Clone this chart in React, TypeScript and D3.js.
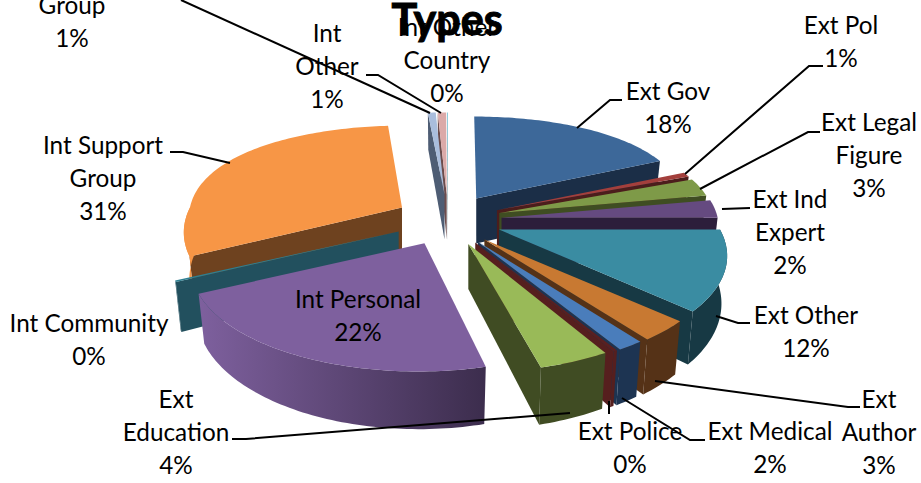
import React from "react";
import * as d3 from "d3";

const W = 921, H = 483;
const FONT = "Lato, 'Open Sans', sans-serif";

// ---- data (clockwise from 12 o'clock) ----
const categories = ["Ext Gov","Ext Pol","Ext Legal Figure","Ext Ind Expert","Ext Other","Ext Author","Ext Medical","Ext Police","Ext Education","Int Personal","Int Community","Int Support Group","Group","Int Other","Int Other Country"];
const shares = [18.3,0.8,3.0,2.9,12.2,3.1,1.55,0.25,4.1,21.3,0.2,30.9,0.65,0.7,0.05];
const topColors = ["#3D6899","#A33F3C","#7E9A48","#654A80","#3A8CA2","#C87932","#4A7DBB","#5A2020","#99BA58","#7E609E","#2E7F91","#F79646","#A9BDDC","#DBA9A8","#4BACC6"];
const wallColors = ["#1B2E47","#4C1D1C","#3F4D22","#2C1E3B","#173944","#553217","#1D3452","#561F1E","#404C23","#3C2D4D","#22505E","#6E421F","#4E5D74","#6C4C4C","#22505E"];

// ---- labels ----
type Lab = { x: number; lines: string[]; y: number };
const labels: Lab[] = [
  { x: 72, y: 14, lines: ["Group", "1%"] },
  { x: 327, y: 42, lines: ["Int", "Other", "1%"] },
  { x: 447, y: 36, lines: ["Int Other", "Country", "0%"] },
  { x: 668, y: 100, lines: ["Ext Gov", "18%"] },
  { x: 841, y: 34, lines: ["Ext Pol", "1%"] },
  { x: 869, y: 131, lines: ["Ext Legal", "Figure", "3%"] },
  { x: 790, y: 208, lines: ["Ext Ind", "Expert", "2%"] },
  { x: 806, y: 324, lines: ["Ext Other", "12%"] },
  { x: 879, y: 408, lines: ["Ext", "Author", "3%"] },
  { x: 770, y: 440, lines: ["Ext Medical", "2%"] },
  { x: 630, y: 440, lines: ["Ext Police", "0%"] },
  { x: 176, y: 408, lines: ["Ext", "Education", "4%"] },
  { x: 89, y: 332, lines: ["Int Community", "0%"] },
  { x: 103, y: 154, lines: ["Int Support", "Group", "31%"] },
  { x: 358, y: 308, lines: ["Int Personal", "22%"] },
];
const leaders: [number, number][][] = [
  [[181, 0], [430, 113]],
  [[366, 75], [378, 75], [441, 113]],
  [[622, 100], [610, 100], [577, 128]],
  [[823, 66], [809, 66], [685, 174]],
  [[820, 132], [808, 132], [700, 189]],
  [[750, 208], [722, 209]],
  [[750, 323], [738, 323], [716, 316]],
  [[860, 407], [848, 407], [655, 381]],
  [[705, 440], [690, 440], [622, 398]],
  [[609, 401], [609, 414]],
  [[232, 439], [246, 439], [570, 413]],
  [[170, 152], [183, 152], [230, 163]],
];

// ---- 3D pie geometry ----
const CX = 448, CY = 220;          // pie centre
const EX = 54, EY = 25.6;          // explosion offset
const EXPLODE_V = 0.24;            // explosion in ground units
const RX = 217, RY = 100;          // ground ellipse
const PX = 0.2, PY = 0.22, DEPTH = 45;

const TAU = Math.PI * 2;
const pie = d3.pie<number>().sort(null).startAngle(0).endAngle(TAU);
const arcs = pie(shares);
const lineGen = d3.line<[number, number]>();

type P = [number, number];
type Slice = { i: number; a0: number; a1: number; mid: number; apex: P; ox: number; av: number };

const rimTop = (s: Slice, a: number): P => {
  const v = -Math.cos(a);
  const fx = 1 / (1 - PX * ((v < 0 ? v * 0.4 : v) + s.av));
  const fy = 1 / (1 - PY * v);
  return [CX + (s.ox + Math.sin(a) * RX) * fx, s.apex[1] + v * RY * fy];
};
const rimBottom = (s: Slice, a: number): P => {
  const [x, y] = rimTop(s, a);
  const f = 1 / (1 - PY * -Math.cos(a));
  return [s.apex[0] + (x - s.apex[0]) * 0.975, y + DEPTH * f];
};
const sampled = (a0: number, a1: number) => {
  const n = Math.max(2, Math.ceil((a1 - a0) / 0.02));
  return d3.range(n + 1).map((i) => a0 + ((a1 - a0) * i) / n);
};

const slices: Slice[] = arcs.map((d, i) => {
  const mid = (d.startAngle + d.endAngle) / 2;
  const ox = EX * Math.sin(mid);
  const av = -Math.cos(mid) * EXPLODE_V;
  const apex: P = [CX + ox / (1 - PX * av), CY - EY * Math.cos(mid)];
  return { i, a0: d.startAngle, a1: d.endAngle, mid, apex, ox, av };
}).sort((p, q) => -Math.cos(p.mid) - -Math.cos(q.mid));

const radialWall = (s: Slice, a: number) =>
  lineGen([s.apex, rimTop(s, a), rimBottom(s, a), [s.apex[0], s.apex[1] + DEPTH]]) + "Z";

export default function App() {
  return (
    <svg width={W} height={H} viewBox={`0 0 ${W} ${H}`} style={{ position: "absolute", left: 0, top: 0, background: "#fff" }}>
      <defs>
        {slices.map((s) => (
          <linearGradient key={s.i} id={`rim${s.i}`} x1="0" x2="1" y1="0" y2="0">
            <stop offset="0" stopColor={topColors[s.i]} />
            <stop offset="1" stopColor={wallColors[s.i]} />
          </linearGradient>
        ))}
      </defs>
      {slices.map((s) => {
        const { i, a0, a1 } = s;
        const from = Math.max(a0, Math.PI / 2), to = Math.min(a1, (3 * Math.PI) / 2);
        const angs = to > from ? sampled(from, to) : [];
        const rimD = angs.length
          ? lineGen([...angs.map((a) => rimTop(s, a)), ...angs.slice().reverse().map((a) => rimBottom(s, a))]) + "Z"
          : null;
        const topD = lineGen([s.apex, ...sampled(a0, a1).map((a) => rimTop(s, a))]) + "Z";
        const wall = wallColors[i];
        const rimFill = i === 9 ? `url(#rim${i})` : i === 11 ? topColors[i] : wall;
        return (
          <g key={i}>
            {Math.sin(a0) < 0 && <path d={radialWall(s, a0)} fill={wall} />}
            {Math.sin(a1) > 0 && <path d={radialWall(s, a1)} fill={wall} />}
            {rimD && <path d={rimD} fill={rimFill} />}
            <path d={topD} fill={topColors[i]} />
          </g>
        );
      })}
      <g fill="none" stroke="#000" strokeWidth={2}>
        {leaders.map((l, i) => <path key={i} d={lineGen(l) ?? ""} />)}
      </g>
      <g fontFamily={FONT} fontSize={24.3} textAnchor="middle" fill="#000">
        {labels.map((l, i) => (
          <text key={i} x={l.x} y={l.y}>
            {l.lines.map((t, j) => <tspan key={j} x={l.x} y={l.y + j * 33}>{t}</tspan>)}
          </text>
        ))}
      </g>
      <text x={447} y={35} fontFamily={FONT} fontWeight={700} fontSize={43} textAnchor="middle" fill="#000" stroke="#000" strokeWidth={1}>Types</text>
    </svg>
  );
}
